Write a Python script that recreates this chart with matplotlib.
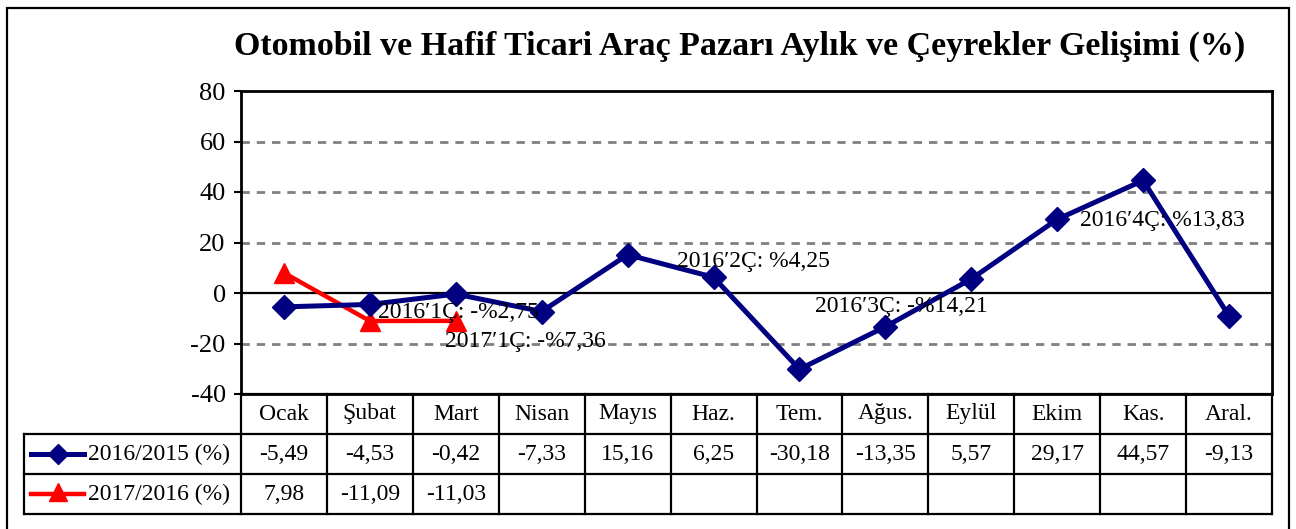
import numpy as np
import matplotlib
matplotlib.use("Agg")
import matplotlib.pyplot as plt
from matplotlib.patches import Rectangle

months = ["Ocak", "Şubat", "Mart", "Nisan", "Mayıs", "Haz.", "Tem.",
          "Ağus.", "Eylül", "Ekim", "Kas.", "Aral."]
s2016 = [-5.49, -4.53, -0.42, -7.33, 15.16, 6.25, -30.18, -13.35, 5.57, 29.17, 44.57, -9.13]
s2017 = [7.98, -11.09, -11.03]
series_names = ["2016/2015 (%)", "2017/2016 (%)"]

# quarter notes: (text, x position in category units, y value)
notes = [
    ("2016′1Ç: -%2,75", 1.09, -7.9),
    ("2017′1Ç: -%7,36", 1.87, -19.4),
    ("2016′2Ç: %4,25", 4.57, 12.3),
    ("2016′3Ç: -%14,21", 6.18, -5.5),
    ("2016′4Ç: %13,83", 9.27, 28.9),
]
yticks = [-40, -20, 0, 20, 40, 60, 80]

NAVY = "#000080"
RED = "#FF0000"
GRID = "#808080"

plt.rcParams.update({
    "font.family": ["Liberation Serif", "DejaVu Serif"],
    "font.size": 17,
    "axes.unicode_minus": False,
})

W, H = 1296, 529
fig = plt.figure(figsize=(W / 100, H / 100), dpi=100)
fig.patch.set_facecolor("white")


def box(x0, y0, x1, y1):
    # pixel box (top-left origin) -> figure fraction rect
    return [x0 / W, 1 - y1 / H, (x1 - x0) / W, (y1 - y0) / H]


# outer frame
fig.patches.append(Rectangle((7 / W, -0.02), (1289 - 7) / W, 1 - 8 / H + 0.02,
                             transform=fig.transFigure, fill=False,
                             lw=1.6, ec="black"))

fig.text(740 / W, 1 - 46 / H,
         "Otomobil ve Hafif Ticari Araç Pazarı Aylık ve Çeyrekler Gelişimi (%)",
         ha="center", va="center", fontsize=24.5, fontweight="bold")

# -- main chart ---------------------------------------------------------
ax = fig.add_axes(box(241, 91, 1272, 394))
x = np.arange(len(months))
ax.set_xlim(-0.5, len(months) - 0.5)
ax.set_ylim(-40, 80)
ax.set_yticks(yticks)
ax.set_xticks([])
ax.tick_params(axis="y", direction="out", length=5, width=1.5, pad=6, labelsize=19)
for sp in ax.spines.values():
    sp.set_linewidth(2)

for v in yticks[1:-1]:
    if v == 0:
        ax.axhline(0, color="black", lw=1.6, zorder=1)
    else:
        ax.axhline(v, color=GRID, lw=2, ls=(0, (3, 2.5)), zorder=1)

ax.plot(x, s2016, color=NAVY, lw=3.6, marker="D", ms=12, zorder=4)
ax.plot(x[:len(s2017)], s2017, color=RED, lw=3.2, marker="^", ms=15, zorder=3)

for txt, xp, yp in notes:
    ax.text(xp, yp, txt, ha="left", va="center", fontsize=17, zorder=6)

# -- data table ---------------------------------------------------------
tb = fig.add_axes(box(241, 394, 1272, 514))
tb.set_xlim(-0.5, len(months) - 0.5)
tb.set_ylim(3, 0)
tb.axis("off")

col_w = 1031 / len(months)
leg_left = -0.5 - (241 - 24) / col_w
lw_t = 1.6

# horizontal rules
tb.plot([-0.5, len(months) - 0.5], [0, 0], color="black", lw=lw_t, clip_on=False)
for r in (1, 2, 3):
    tb.plot([leg_left, len(months) - 0.5], [r, r], color="black", lw=lw_t, clip_on=False)
# vertical rules
for c in range(len(months) + 1):
    tb.plot([c - 0.5, c - 0.5], [0, 3], color="black", lw=lw_t, clip_on=False)
tb.plot([leg_left, leg_left], [1, 3], color="black", lw=lw_t, clip_on=False)

for i, m in enumerate(months):
    tb.text(i, 0.5, m, ha="center", va="center", fontsize=17)


def fmt(v):
    return f"{v:.2f}".replace(".", ",")


for i, v in enumerate(s2016):
    tb.text(i, 1.5, fmt(v), ha="center", va="center", fontsize=17)
for i, v in enumerate(s2017):
    tb.text(i, 2.5, fmt(v), ha="center", va="center", fontsize=17)

# legend keys inside the table
h0 = -0.5 - (241 - 31) / col_w
h1 = -0.5 - (241 - 84) / col_w
hm = (h0 + h1) / 2
tb.plot([h0, h1], [1.5, 1.5], color=NAVY, lw=3.6, clip_on=False)
tb.plot([hm], [1.5], color=NAVY, marker="D", ms=10, clip_on=False)
tb.plot([h0, h1], [2.5, 2.5], color=RED, lw=3.2, clip_on=False)
tb.plot([hm], [2.45], color=RED, marker="^", ms=13, clip_on=False)
txt_x = -0.5 - (241 - 88) / col_w
tb.text(txt_x, 1.5, series_names[0], ha="left", va="center", fontsize=17)
tb.text(txt_x, 2.5, series_names[1], ha="left", va="center", fontsize=17)

fig.savefig("out.png", dpi=100, facecolor="white")
